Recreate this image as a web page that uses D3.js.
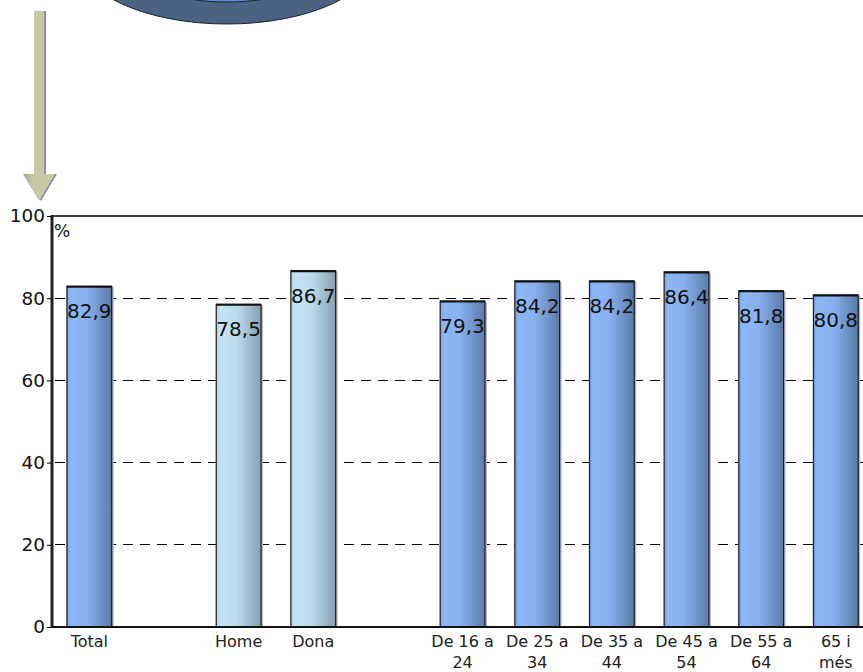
<!DOCTYPE html>
<html><head><meta charset="utf-8">
<script src="https://cdn.jsdelivr.net/npm/d3@7"></script>
<style>html,body{margin:0;padding:0;background:#fff;overflow:hidden}</style>
</head><body>
<svg id="c" width="863" height="672"></svg>
<script>
// ---- data ----
const categories = ["Total", "", "Home", "Dona", "", "De 16 a 24", "De 25 a 34", "De 35 a 44", "De 45 a 54", "De 55 a 64", "65 i més"];
const values = [82.9, null, 78.5, 86.7, null, 79.3, 84.2, 84.2, 86.4, 81.8, 80.8];
const groups = ["blue", null, "light", "light", null, "blue", "blue", "blue", "blue", "blue", "blue"];
const yTicks = [0, 20, 40, 60, 80, 100];
const gridTicks = [20, 40, 60, 80];
const yUnit = "%";

const svg = d3.select("#c");
const W = 863, H = 672;
const plotLeft = 52, plotTop = 216, plotBottom = 627;
const step = 74.65;
const FONT = "DejaVu Sans, Verdana, sans-serif";
const x = d3.scaleBand().domain(d3.range(categories.length))
  .range([plotLeft, plotLeft + step * categories.length]).paddingInner(0.4).paddingOuter(0.2);
const y = d3.scaleLinear().domain([0, 100]).range([plotBottom, plotTop]);
const fmt = d3.formatLocale({decimal: ",", thousands: ".", grouping: [3], currency: ["", ""]}).format(".1f");

const defs = svg.append("defs");
function grad(id, stops) {
  const g = defs.append("linearGradient").attr("id", id).attr("x1", "0").attr("x2", "1").attr("y1", "0").attr("y2", "0");
  stops.forEach(s => g.append("stop").attr("offset", s[0]).attr("stop-color", s[1]));
}
grad("gblue", [["0", "#7aa0dc"], ["0.08", "#8cb6f4"], ["0.45", "#88b0ee"], ["1", "#5a7aa8"]]);
grad("glight", [["0", "#b0d4ea"], ["0.1", "#c4e4f6"], ["0.45", "#bcdcee"], ["1", "#86a0b0"]]);
grad("garrow", [["0", "#a0a0a0"], ["0.3", "#c8c8a4"], ["1", "#c8c8a0"]]);

// ---- decorative ellipse (top) ----
svg.append("ellipse").attr("cx", 227).attr("cy", -46).attr("rx", 150).attr("ry", 70)
  .attr("fill", "#4b6282").attr("stroke", "#1a2230").attr("stroke-width", 1);
svg.append("ellipse").attr("cx", 227).attr("cy", -30).attr("rx", 90).attr("ry", 32)
  .attr("fill", "#5a8ad6").attr("stroke", "#1a2230").attr("stroke-width", 1);

// ---- arrow ----
const arrow = "M34,11 L44,11 L44,174 L55,174 L39,201 L23,174 L34,174 Z";
svg.append("path").attr("d", arrow).attr("transform", "translate(2,0)").attr("fill", "#8a8ab4");
svg.append("path").attr("d", arrow).attr("fill", "url(#garrow)");

// ---- gridlines ----
svg.append("g").selectAll("line").data(gridTicks).join("line")
  .attr("x1", plotLeft).attr("x2", W).attr("y1", d => y(d)).attr("y2", d => y(d))
  .attr("stroke", "#000").attr("stroke-width", 1).attr("stroke-dasharray", "10,7")
  .attr("stroke-dashoffset", -3).attr("shape-rendering", "crispEdges");

// top border
svg.append("line").attr("x1", plotLeft).attr("x2", W).attr("y1", y(100)).attr("y2", y(100))
  .attr("stroke", "#000").attr("stroke-width", 1.5);

// ---- bars ----
const idx = d3.range(categories.length).filter(i => values[i] != null);
const bars = svg.append("g");
bars.selectAll("rect.sh").data(idx).join("rect").attr("class", "sh")
  .attr("x", i => x(i) + 2).attr("y", i => y(values[i]) + 1)
  .attr("width", x.bandwidth()).attr("height", i => y(0) - y(values[i]))
  .attr("fill", "#b8b8b8");
bars.selectAll("rect.b").data(idx).join("rect").attr("class", "b")
  .attr("x", i => x(i)).attr("y", i => y(values[i]))
  .attr("width", x.bandwidth()).attr("height", i => y(0) - y(values[i]))
  .attr("fill", i => `url(#g${groups[i]})`).attr("stroke", "#1a1a1a").attr("stroke-width", 1.2);
bars.selectAll("line.t").data(idx).join("line").attr("class", "t")
  .attr("x1", i => x(i)).attr("x2", i => x(i) + x.bandwidth())
  .attr("y1", i => y(values[i]) + 0.5).attr("y2", i => y(values[i]) + 0.5)
  .attr("stroke", "#111").attr("stroke-width", 2);

// value labels
svg.append("g").selectAll("text").data(idx).join("text")
  .attr("x", i => x(i) + x.bandwidth() / 2).attr("y", i => y(values[i]) + 32)
  .attr("text-anchor", "middle").attr("font-family", FONT)
  .attr("font-size", 20).attr("fill", "#111").text(i => fmt(values[i]));

// ---- axes ----
svg.append("line").attr("x1", plotLeft).attr("x2", plotLeft).attr("y1", y(100) - 1).attr("y2", y(0) + 1)
  .attr("stroke", "#222").attr("stroke-width", 3);
svg.append("line").attr("x1", plotLeft).attr("x2", W).attr("y1", y(0)).attr("y2", y(0))
  .attr("stroke", "#111").attr("stroke-width", 2.2);

const yAxis = d3.axisLeft(y).tickValues(yTicks).tickSize(4).tickPadding(2).tickFormat(d3.format("d"));
const ya = svg.append("g").attr("transform", `translate(${plotLeft - 1},0)`).call(yAxis);
ya.select(".domain").remove();
ya.selectAll(".tick line").attr("stroke", "#000");
ya.selectAll(".tick text").attr("font-family", FONT)
  .attr("font-size", 18.5).attr("fill", "#111");

svg.append("text").attr("x", 54).attr("y", 237).attr("font-family", FONT)
  .attr("font-size", 17).attr("fill", "#111").text(yUnit);

// x labels
const xl = svg.append("g").selectAll("text").data(d3.range(categories.length).filter(i => categories[i]))
  .join("text")
  .attr("x", i => x(i) + x.bandwidth() / 2).attr("y", 647)
  .attr("text-anchor", "middle").attr("font-family", FONT)
  .attr("font-size", 16).attr("fill", "#222");
xl.each(function(i) {
  const words = categories[i].split(" ");
  const lines = words.length > 2 ? [words.slice(0, -1).join(" "), words[words.length - 1]] : [categories[i]];
  d3.select(this).selectAll("tspan").data(lines).join("tspan")
    .attr("x", x(i) + x.bandwidth() / 2).attr("dy", (d, k) => k === 0 ? 0 : 21).text(d => d);
});
</script>
</body></html>
